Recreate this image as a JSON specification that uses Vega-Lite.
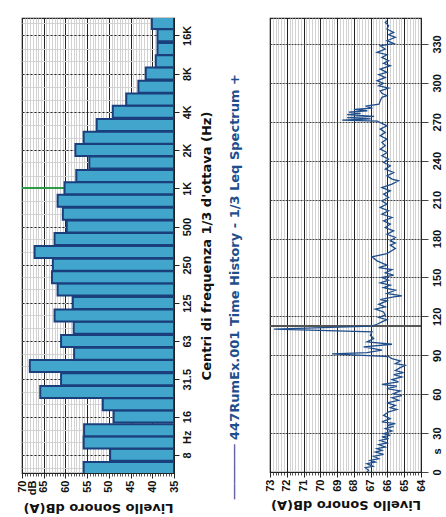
{
  "$schema": "https://vega.github.io/schema/vega-lite/v6.json",
  "padding": {"left": -12, "top": 10, "right": 0, "bottom": 0},
  "config": {
    "font": "Liberation Sans",
    "view": {"stroke": "#222", "strokeWidth": 1.2},
    "axis": {"labelFont": "Liberation Sans", "labelFontSize": 11, "labelFontWeight": "bold", "labelColor": "#111", "titleFont": "DejaVu Sans", "titleFontSize": 13, "titleFontWeight": "bold", "titleColor": "#111", "domainColor": "#222", "tickColor": "#222"},
    "concat": {"spacing": 14}
  },
  "datasets": {
    "spectrum": [
      {"freq": 6.3, "level": 55.8}, {"freq": 8, "level": 49.7}, {"freq": 10, "level": 55.8}, {"freq": 12.5, "level": 55.7},
      {"freq": 16, "level": 48.9}, {"freq": 20, "level": 51.4}, {"freq": 25, "level": 65.8}, {"freq": 31.5, "level": 61.0},
      {"freq": 40, "level": 68.2}, {"freq": 50, "level": 58.0}, {"freq": 63, "level": 61.0}, {"freq": 80, "level": 58.1},
      {"freq": 100, "level": 62.5}, {"freq": 125, "level": 58.3}, {"freq": 160, "level": 61.8}, {"freq": 200, "level": 63.1},
      {"freq": 250, "level": 62.9}, {"freq": 315, "level": 67.1}, {"freq": 400, "level": 62.5}, {"freq": 500, "level": 59.7},
      {"freq": 630, "level": 60.6}, {"freq": 800, "level": 61.8}, {"freq": 1000, "level": 60.2}, {"freq": 1250, "level": 57.5},
      {"freq": 1600, "level": 54.5}, {"freq": 2000, "level": 57.7}, {"freq": 2500, "level": 55.8}, {"freq": 3150, "level": 52.8},
      {"freq": 4000, "level": 49.1}, {"freq": 5000, "level": 46.0}, {"freq": 6300, "level": 43.2}, {"freq": 8000, "level": 41.5},
      {"freq": 10000, "level": 39.2}, {"freq": 12500, "level": 38.8}, {"freq": 16000, "level": 38.8}, {"freq": 20000, "level": 40.1}
    ],
    "history": [
      {"t": 0, "level": 67.22}, {"t": 1.3, "level": 67.12}, {"t": 3.3, "level": 67.32}, {"t": 4.4, "level": 66.86}, {"t": 6.4, "level": 67.22},
      {"t": 7.7, "level": 66.72}, {"t": 9.0, "level": 67.02}, {"t": 10.3, "level": 66.52}, {"t": 12.1, "level": 66.82}, {"t": 13.6, "level": 66.23},
      {"t": 15.4, "level": 66.72}, {"t": 16.7, "level": 66.33}, {"t": 18.0, "level": 66.62}, {"t": 19.3, "level": 66.13}, {"t": 21.1, "level": 66.52},
      {"t": 22.4, "level": 66.03}, {"t": 24.4, "level": 66.43}, {"t": 25.7, "level": 65.93}, {"t": 27.0, "level": 66.33}, {"t": 28.3, "level": 65.83},
      {"t": 29.6, "level": 66.23}, {"t": 31.6, "level": 65.73}, {"t": 33.4, "level": 66.13}, {"t": 35.2, "level": 65.63}, {"t": 36.0, "level": 66.03},
      {"t": 37.3, "level": 65.53}, {"t": 38.6, "level": 66.33}, {"t": 41.1, "level": 65.83}, {"t": 43.7, "level": 66.23}, {"t": 46.3, "level": 65.93},
      {"t": 48.1, "level": 65.44}, {"t": 49.6, "level": 65.83}, {"t": 51.4, "level": 65.53}, {"t": 53.2, "level": 66.03}, {"t": 55.3, "level": 65.34},
      {"t": 57.3, "level": 65.73}, {"t": 58.9, "level": 65.14}, {"t": 60.4, "level": 65.63}, {"t": 62.5, "level": 65.24}, {"t": 64.3, "level": 66.03},
      {"t": 66.1, "level": 65.44}, {"t": 67.6, "level": 66.33}, {"t": 69.4, "level": 65.34}, {"t": 71.2, "level": 65.73}, {"t": 73.3, "level": 65.14},
      {"t": 75.1, "level": 65.63}, {"t": 76.6, "level": 65.04}, {"t": 78.2, "level": 65.53}, {"t": 80.5, "level": 65.24}, {"t": 82.3, "level": 64.94},
      {"t": 83.6, "level": 65.53}, {"t": 85.6, "level": 65.24}, {"t": 87.4, "level": 65.73}, {"t": 89.0, "level": 65.93}, {"t": 91.0, "level": 69.3},
      {"t": 92.1, "level": 67.22}, {"t": 93.9, "level": 66.33}, {"t": 96.4, "level": 67.42}, {"t": 98.5, "level": 65.73}, {"t": 100.3, "level": 67.22},
      {"t": 102.9, "level": 66.82}, {"t": 105.4, "level": 67.02}, {"t": 108.0, "level": 66.92}, {"t": 110.1, "level": 72.76}, {"t": 112.4, "level": 66.92},
      {"t": 113.9, "level": 66.62}, {"t": 115.7, "level": 66.33}, {"t": 117.5, "level": 66.03}, {"t": 119.1, "level": 66.52}, {"t": 120.9, "level": 66.13},
      {"t": 123.4, "level": 66.23}, {"t": 125.5, "level": 66.72}, {"t": 127.3, "level": 66.13}, {"t": 129.3, "level": 66.52}, {"t": 131.9, "level": 66.03},
      {"t": 132.9, "level": 66.43}, {"t": 135.0, "level": 65.63}, {"t": 135.8, "level": 65.14}, {"t": 137.6, "level": 66.03}, {"t": 140.1, "level": 65.53},
      {"t": 142.2, "level": 66.23}, {"t": 144.0, "level": 65.83}, {"t": 145.8, "level": 66.43}, {"t": 147.9, "level": 65.93}, {"t": 149.9, "level": 66.33},
      {"t": 151.7, "level": 65.63}, {"t": 153.5, "level": 66.13}, {"t": 156.1, "level": 65.73}, {"t": 157.6, "level": 66.52}, {"t": 159.4, "level": 66.03},
      {"t": 162.8, "level": 66.62}, {"t": 165.9, "level": 66.92}, {"t": 168.4, "level": 66.03}, {"t": 172.3, "level": 65.53}, {"t": 174.9, "level": 65.83},
      {"t": 176.5, "level": 65.53}, {"t": 178.2, "level": 65.83}, {"t": 180.8, "level": 65.53}, {"t": 183.3, "level": 66.03}, {"t": 185.9, "level": 65.63},
      {"t": 188.5, "level": 66.13}, {"t": 191.1, "level": 65.83}, {"t": 193.6, "level": 66.23}, {"t": 196.2, "level": 65.73}, {"t": 198.8, "level": 66.33},
      {"t": 201.3, "level": 65.93}, {"t": 203.9, "level": 66.43}, {"t": 206.5, "level": 66.03}, {"t": 209.1, "level": 66.33}, {"t": 211.6, "level": 65.93},
      {"t": 214.2, "level": 66.23}, {"t": 216.8, "level": 65.83}, {"t": 219.3, "level": 66.33}, {"t": 221.9, "level": 65.73}, {"t": 224.5, "level": 65.34},
      {"t": 225.8, "level": 65.73}, {"t": 228.3, "level": 66.03}, {"t": 230.9, "level": 65.63}, {"t": 233.5, "level": 66.13}, {"t": 236.1, "level": 65.83},
      {"t": 238.6, "level": 66.23}, {"t": 241.2, "level": 65.93}, {"t": 243.8, "level": 66.33}, {"t": 246.3, "level": 66.03}, {"t": 248.9, "level": 66.43},
      {"t": 251.5, "level": 66.13}, {"t": 254.1, "level": 66.33}, {"t": 256.6, "level": 66.03}, {"t": 259.2, "level": 66.43}, {"t": 261.8, "level": 66.13},
      {"t": 264.3, "level": 66.43}, {"t": 266.9, "level": 66.03}, {"t": 268.7, "level": 66.33}, {"t": 270.5, "level": 66.6}, {"t": 271.2, "level": 68.7},
      {"t": 272.2, "level": 67.0}, {"t": 273.2, "level": 68.4}, {"t": 274.2, "level": 66.8}, {"t": 275.5, "level": 68.4}, {"t": 276.5, "level": 67.6},
      {"t": 277.5, "level": 68.3}, {"t": 278.5, "level": 67.2}, {"t": 279.5, "level": 68.0}, {"t": 280.5, "level": 66.9}, {"t": 282.0, "level": 67.3},
      {"t": 283.5, "level": 66.5}, {"t": 286.2, "level": 66.43}, {"t": 288.8, "level": 66.33}, {"t": 290.1, "level": 66.03}, {"t": 291.9, "level": 66.33},
      {"t": 293.9, "level": 66.43}, {"t": 296.0, "level": 65.93}, {"t": 297.8, "level": 66.52}, {"t": 299.6, "level": 66.23}, {"t": 301.6, "level": 66.62},
      {"t": 304.2, "level": 66.13}, {"t": 306.3, "level": 66.52}, {"t": 308.1, "level": 66.03}, {"t": 310.6, "level": 66.43}, {"t": 313.2, "level": 65.83},
      {"t": 315.0, "level": 66.23}, {"t": 317.1, "level": 65.93}, {"t": 319.6, "level": 66.33}, {"t": 321.7, "level": 66.03}, {"t": 323.5, "level": 66.62},
      {"t": 326.1, "level": 66.13}, {"t": 328.6, "level": 66.43}, {"t": 330.4, "level": 65.63}, {"t": 332.5, "level": 66.03}, {"t": 335.1, "level": 65.53},
      {"t": 337.1, "level": 65.93}, {"t": 338.9, "level": 65.63}, {"t": 341.5, "level": 66.03}, {"t": 344.1, "level": 65.93}, {"t": 346.6, "level": 66.13},
      {"t": 347.9, "level": 66.03}
    ]
  },
  "hconcat": [
    {
      "width": 152,
      "height": 455,
      "data": {"name": "spectrum"},
      "title": {"text": "───────", "orient": "left", "anchor": "start", "color": "#1f4e8c", "font": "DejaVu Sans", "fontSize": 13, "fontWeight": "bold", "offset": 14, "dx": 15},
      "layer": [
        {
          "mark": {"type": "point", "opacity": 0},
          "encoding": {
            "x": {"field": "level", "type": "quantitative",
              "scale": {"domain": [35, 70], "reverse": true, "nice": false, "zero": false},
              "axis": {"orient": "bottom", "values": [35.625,36.25,36.875,37.5,38.125,38.75,39.375,40.625,41.25,41.875,42.5,43.125,43.75,44.375,45.625,46.25,46.875,47.5,48.125,48.75,49.375,50.625,51.25,51.875,52.5,53.125,53.75,54.375,55.625,56.25,56.875,57.5,58.125,58.75,59.375,60.625,61.25,61.875,62.5,63.125,63.75,64.375,65.625,66.25,66.875,67.5,68.125,68.75,69.375],
                "grid": true, "gridColor": "#d2d2d2", "gridWidth": 1, "labels": false, "domain": false, "tickSize": 3, "tickColor": "#555", "title": null}},
            "y": {"field": "freq", "type": "quantitative",
              "scale": {"type": "log", "domain": [6.3, 20000], "nice": false},
              "axis": {"orient": "right", "values": [6.3,8,10,12.5,16,20,25,31.5,40,50,63,80,100,125,160,200,250,315,400,500,630,800,1000,1250,1600,2000,2500,3150,4000,5000,6300,8000,10000,12500,16000,20000],
                "grid": true, "gridColor": "#d2d2d2", "gridWidth": 1, "labels": false, "ticks": false, "domain": false, "title": null}}
          }
        },
        {
          "mark": {"type": "point", "opacity": 0},
          "encoding": {
            "x": {"field": "level", "type": "quantitative",
              "axis": {"orient": "top", "labels": false, "ticks": false, "domain": false, "grid": false, "title": null, "minExtent": 7, "maxExtent": 7}}
          }
        },
        {
          "mark": {"type": "rule", "color": "#2e9a46", "strokeWidth": 1.5},
          "encoding": {"y": {"datum": 1000, "type": "quantitative", "axis": null}}
        },
        {
          "mark": {"type": "bar", "orient": "horizontal", "size": 12, "fill": "#42a6cc", "stroke": "#1b3f7c", "strokeWidth": 2, "clip": true},
          "encoding": {
            "x": {"field": "level", "type": "quantitative",
              "axis": {"orient": "bottom", "values": [35,40,45,50,55,60,65,67.5,70],
                "labelExpr": "datum.value == 67.5 ? 'dB' : datum.label",
                "grid": true, "gridColor": {"condition": {"test": "datum.value == 67.5", "value": "transparent"}, "value": "#222"},
                "tickColor": {"condition": {"test": "datum.value == 67.5", "value": "transparent"}, "value": "#222"},
                "tickSize": 5, "labelAngle": -90, "labelOverlap": false, "labelFlush": false, "labelPadding": 2,
                "title": "Livello Sonoro dB(A)", "titleAngle": 180, "titleBaseline": "bottom", "titlePadding": 6}},
            "x2": {"datum": 35},
            "y": {"field": "freq", "type": "quantitative",
              "axis": {"orient": "right", "values": [8,11.1,16,31.5,63,125,250,500,1000,2000,4000,8000,16000],
                "labelExpr": "datum.value == 11.1 ? 'Hz' : datum.value >= 1000 ? (datum.value / 1000) + 'K' : datum.value + ''",
                "grid": true, "gridDash": [2, 2], "gridColor": {"condition": {"test": "datum.value == 11.1", "value": "transparent"}, "value": "#222"},
                "tickColor": {"condition": {"test": "datum.value == 11.1", "value": "transparent"}, "value": "#222"},
                "tickSize": 5, "labelAngle": -90, "labelOverlap": false, "labelFlush": false, "labelPadding": 2,
                "title": "Centri di frequenza 1/3 d'ottava (Hz)", "titleAngle": -90, "titleBaseline": "top", "titlePadding": 8}}
          }
        }
      ],
      "resolve": {"axis": {"x": "independent", "y": "independent"}}
    },
    {
      "width": 151,
      "height": 454,
      "data": {"name": "history"},
      "title": {"text": "───────     447RumEx.001 Time History - 1/3 Leq Spectrum +", "orient": "left", "anchor": "start", "color": "#1f4e8c", "font": "DejaVu Sans", "fontSize": 13, "fontWeight": "bold", "offset": 22, "dx": 11},
      "layer": [
        {
          "mark": {"type": "point", "opacity": 0},
          "encoding": {
            "x": {"field": "level", "type": "quantitative",
              "scale": {"domain": [64, 73], "reverse": true, "nice": false, "zero": false},
              "axis": {"orient": "bottom", "values": [64.167,64.333,64.5,64.667,64.833,65.167,65.333,65.5,65.667,65.833,66.167,66.333,66.5,66.667,66.833,67.167,67.333,67.5,67.667,67.833,68.167,68.333,68.5,68.667,68.833,69.167,69.333,69.5,69.667,69.833,70.167,70.333,70.5,70.667,70.833,71.167,71.333,71.5,71.667,71.833,72.167,72.333,72.5,72.667,72.833],
                "grid": true, "gridColor": "#d2d2d2", "gridWidth": 1, "labels": false, "domain": false, "tickSize": 3, "tickColor": "#555", "title": null}},
            "y": {"field": "t", "type": "quantitative", "scale": {"domain": [0, 350], "nice": false, "zero": false}, "axis": null}
          }
        },
        {
          "mark": {"type": "rule", "color": "#555", "strokeWidth": 1.5},
          "encoding": {"y": {"datum": 112.6, "type": "quantitative", "axis": null}}
        },
        {
          "mark": {"type": "line", "color": "#1f4e8c", "strokeWidth": 1.3},
          "encoding": {
            "x": {"field": "level", "type": "quantitative",
              "axis": {"orient": "bottom", "values": [64,65,66,67,68,69,70,71,72,73],
                "grid": true, "gridColor": "#222", "tickSize": 5, "labelAngle": -90, "labelOverlap": false, "labelFlush": false, "labelPadding": 2,
                "title": "Livello Sonoro dB(A)", "titleAngle": 180, "titleBaseline": "bottom", "titlePadding": 6}},
            "y": {"field": "t", "type": "quantitative",
              "axis": {"orient": "right", "values": [0,16.2,30,60,90,120,150,180,210,240,270,300,330],
                "labelExpr": "datum.value == 16.2 ? 's' : datum.label",
                "grid": true, "gridDash": [2, 1], "gridColor": {"condition": {"test": "datum.value == 16.2", "value": "transparent"}, "value": "#444"},
                "tickColor": {"condition": {"test": "datum.value == 16.2", "value": "transparent"}, "value": "#444"},
                "tickSize": 7, "labelAngle": -90, "labelOverlap": false, "labelFlush": false, "labelPadding": 3,
                "title": "Durata dell Misura (sec.)", "titleAngle": -90, "titleBaseline": "top", "titlePadding": 6}},
            "order": {"field": "t", "type": "quantitative"}
          }
        }
      ],
      "resolve": {"axis": {"x": "independent", "y": "independent"}}
    }
  ]
}
